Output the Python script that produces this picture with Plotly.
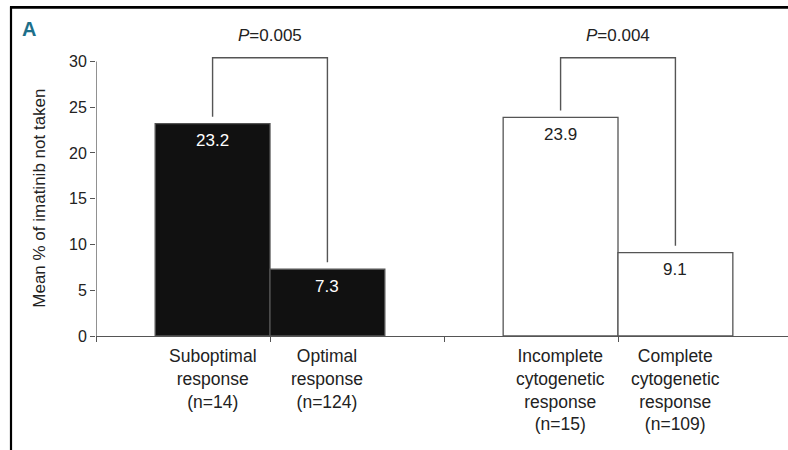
import plotly.graph_objects as go

# Mean % of imatinib doses not taken, by response group
categories = [
    "Suboptimal<br>response<br>(n=14)",
    "Optimal<br>response<br>(n=124)",
    "Incomplete<br>cytogenetic<br>response<br>(n=15)",
    "Complete<br>cytogenetic<br>response<br>(n=109)",
]
values = [23.2, 7.3, 23.9, 9.1]
group_index = [1, 1, 3, 3]          # two comparison groups on the x axis
within_group = [0, 1, 0, 1]         # left / right bar of each pair
p_values = ["0.005", "0.004"]
p_groups = [1, 3]
y_ticks = [0, 5, 10, 15, 20, 25, 30]

FONT = "Liberation Sans, Arial, sans-serif"
GREY = "#555555"
TEXT = "#222222"
BAR_W = 0.66
BRACKET_TOP = 30.4
GAP = 0.75

fills = ["#111111", "#111111", "#ffffff", "#ffffff"]
offsets = [-BAR_W if w == 0 else 0 for w in within_group]
centers = [g + o + BAR_W / 2 for g, o in zip(group_index, offsets)]

fig = go.Figure()
fig.add_trace(go.Bar(
    x=group_index,
    y=values,
    width=BAR_W,
    offset=offsets,
    marker=dict(color=fills, line=dict(color=GREY, width=1.3)),
    hoverinfo="skip",
))

annotations = []
shapes = []

# value labels inside the top of each bar
for c, v, f in zip(centers, values, fills):
    annotations.append(dict(
        x=c, y=v, xref="x", yref="y", text=f"{v}", showarrow=False,
        yanchor="middle", yshift=-17,
        font=dict(family=FONT, size=17, color="#ffffff" if f == "#111111" else TEXT),
    ))

# category labels below the axis
for c, label in zip(centers, categories):
    annotations.append(dict(
        x=c, y=0, xref="x", yref="y", text=label, showarrow=False,
        yanchor="top", yshift=-8,
        font=dict(family=FONT, size=17.5, color=TEXT),
    ))

# significance brackets
for k, (g, p) in enumerate(zip(p_groups, p_values)):
    i, j = 2 * k, 2 * k + 1
    xs = [centers[i], centers[i], centers[j], centers[j]]
    ys = [values[i] + GAP, BRACKET_TOP, BRACKET_TOP, values[j] + GAP]
    path = "M {} {} L {} {} L {} {} L {} {}".format(*[v for pt in zip(xs, ys) for v in pt])
    shapes.append(dict(type="path", path=path, xref="x", yref="y",
                       line=dict(color=GREY, width=1.4)))
    annotations.append(dict(
        x=g, y=32.8, xref="x", yref="y", showarrow=False, yanchor="middle",
        text=f"<i>P</i>=" + p,
        font=dict(family=FONT, size=17, color=TEXT),
    ))

# y axis line (0 to 30 only)
shapes.append(dict(type="line", xref="x", yref="y", x0=0, x1=0, y0=0, y1=30,
                   line=dict(color=GREY, width=1.3)))

# y axis title
annotations.append(dict(
    x=-56 / 692, y=15, xref="paper", yref="y", text="Mean % of imatinib not taken",
    textangle=-90, showarrow=False, xanchor="center", yanchor="middle",
    font=dict(family=FONT, size=17, color=TEXT),
))

# panel letter
annotations.append(dict(
    x=(20 - 96) / 692, y=(336 - 28) / 302.5, xref="paper", yref="paper", text="<b>A</b>",
    showarrow=False, xanchor="left", yanchor="middle",
    font=dict(family=FONT, size=20, color="#1d6f8a"),
))

# panel frame: top and left rules
shapes.append(dict(type="line", xref="paper", yref="paper",
                   x0=(10 - 96) / 692, x1=1.0, y0=(336 - 6.8) / 302.5, y1=(336 - 6.8) / 302.5,
                   line=dict(color="#000000", width=2.6)))
shapes.append(dict(type="line", xref="paper", yref="paper",
                   x0=(11 - 96) / 692, x1=(11 - 96) / 692, y0=(336 - 6) / 302.5, y1=(336 - 452) / 302.5,
                   line=dict(color="#000000", width=2.2)))

fig.update_layout(
    width=788, height=450,
    margin=dict(l=96, r=0, t=33.5, b=114),
    paper_bgcolor="#ffffff", plot_bgcolor="#ffffff",
    showlegend=False,
    annotations=annotations,
    shapes=shapes,
    xaxis=dict(
        range=[0, 692 / 174], showgrid=False, zeroline=False,
        showline=True, linecolor=GREY, linewidth=1.3,
        tickmode="array", tickvals=[0, 1, 2, 3], ticktext=["", "", "", ""],
        ticks="outside", ticklen=5, tickcolor=GREY, tickwidth=1.3,
        fixedrange=True,
    ),
    yaxis=dict(
        range=[0, 33], showgrid=False, zeroline=False, showline=False,
        tickmode="array", tickvals=y_ticks,
        ticks="outside", ticklen=5, tickcolor=GREY, tickwidth=1.3,
        tickfont=dict(family=FONT, size=16, color=TEXT),
        fixedrange=True,
    ),
)

fig.write_html("out.html")
